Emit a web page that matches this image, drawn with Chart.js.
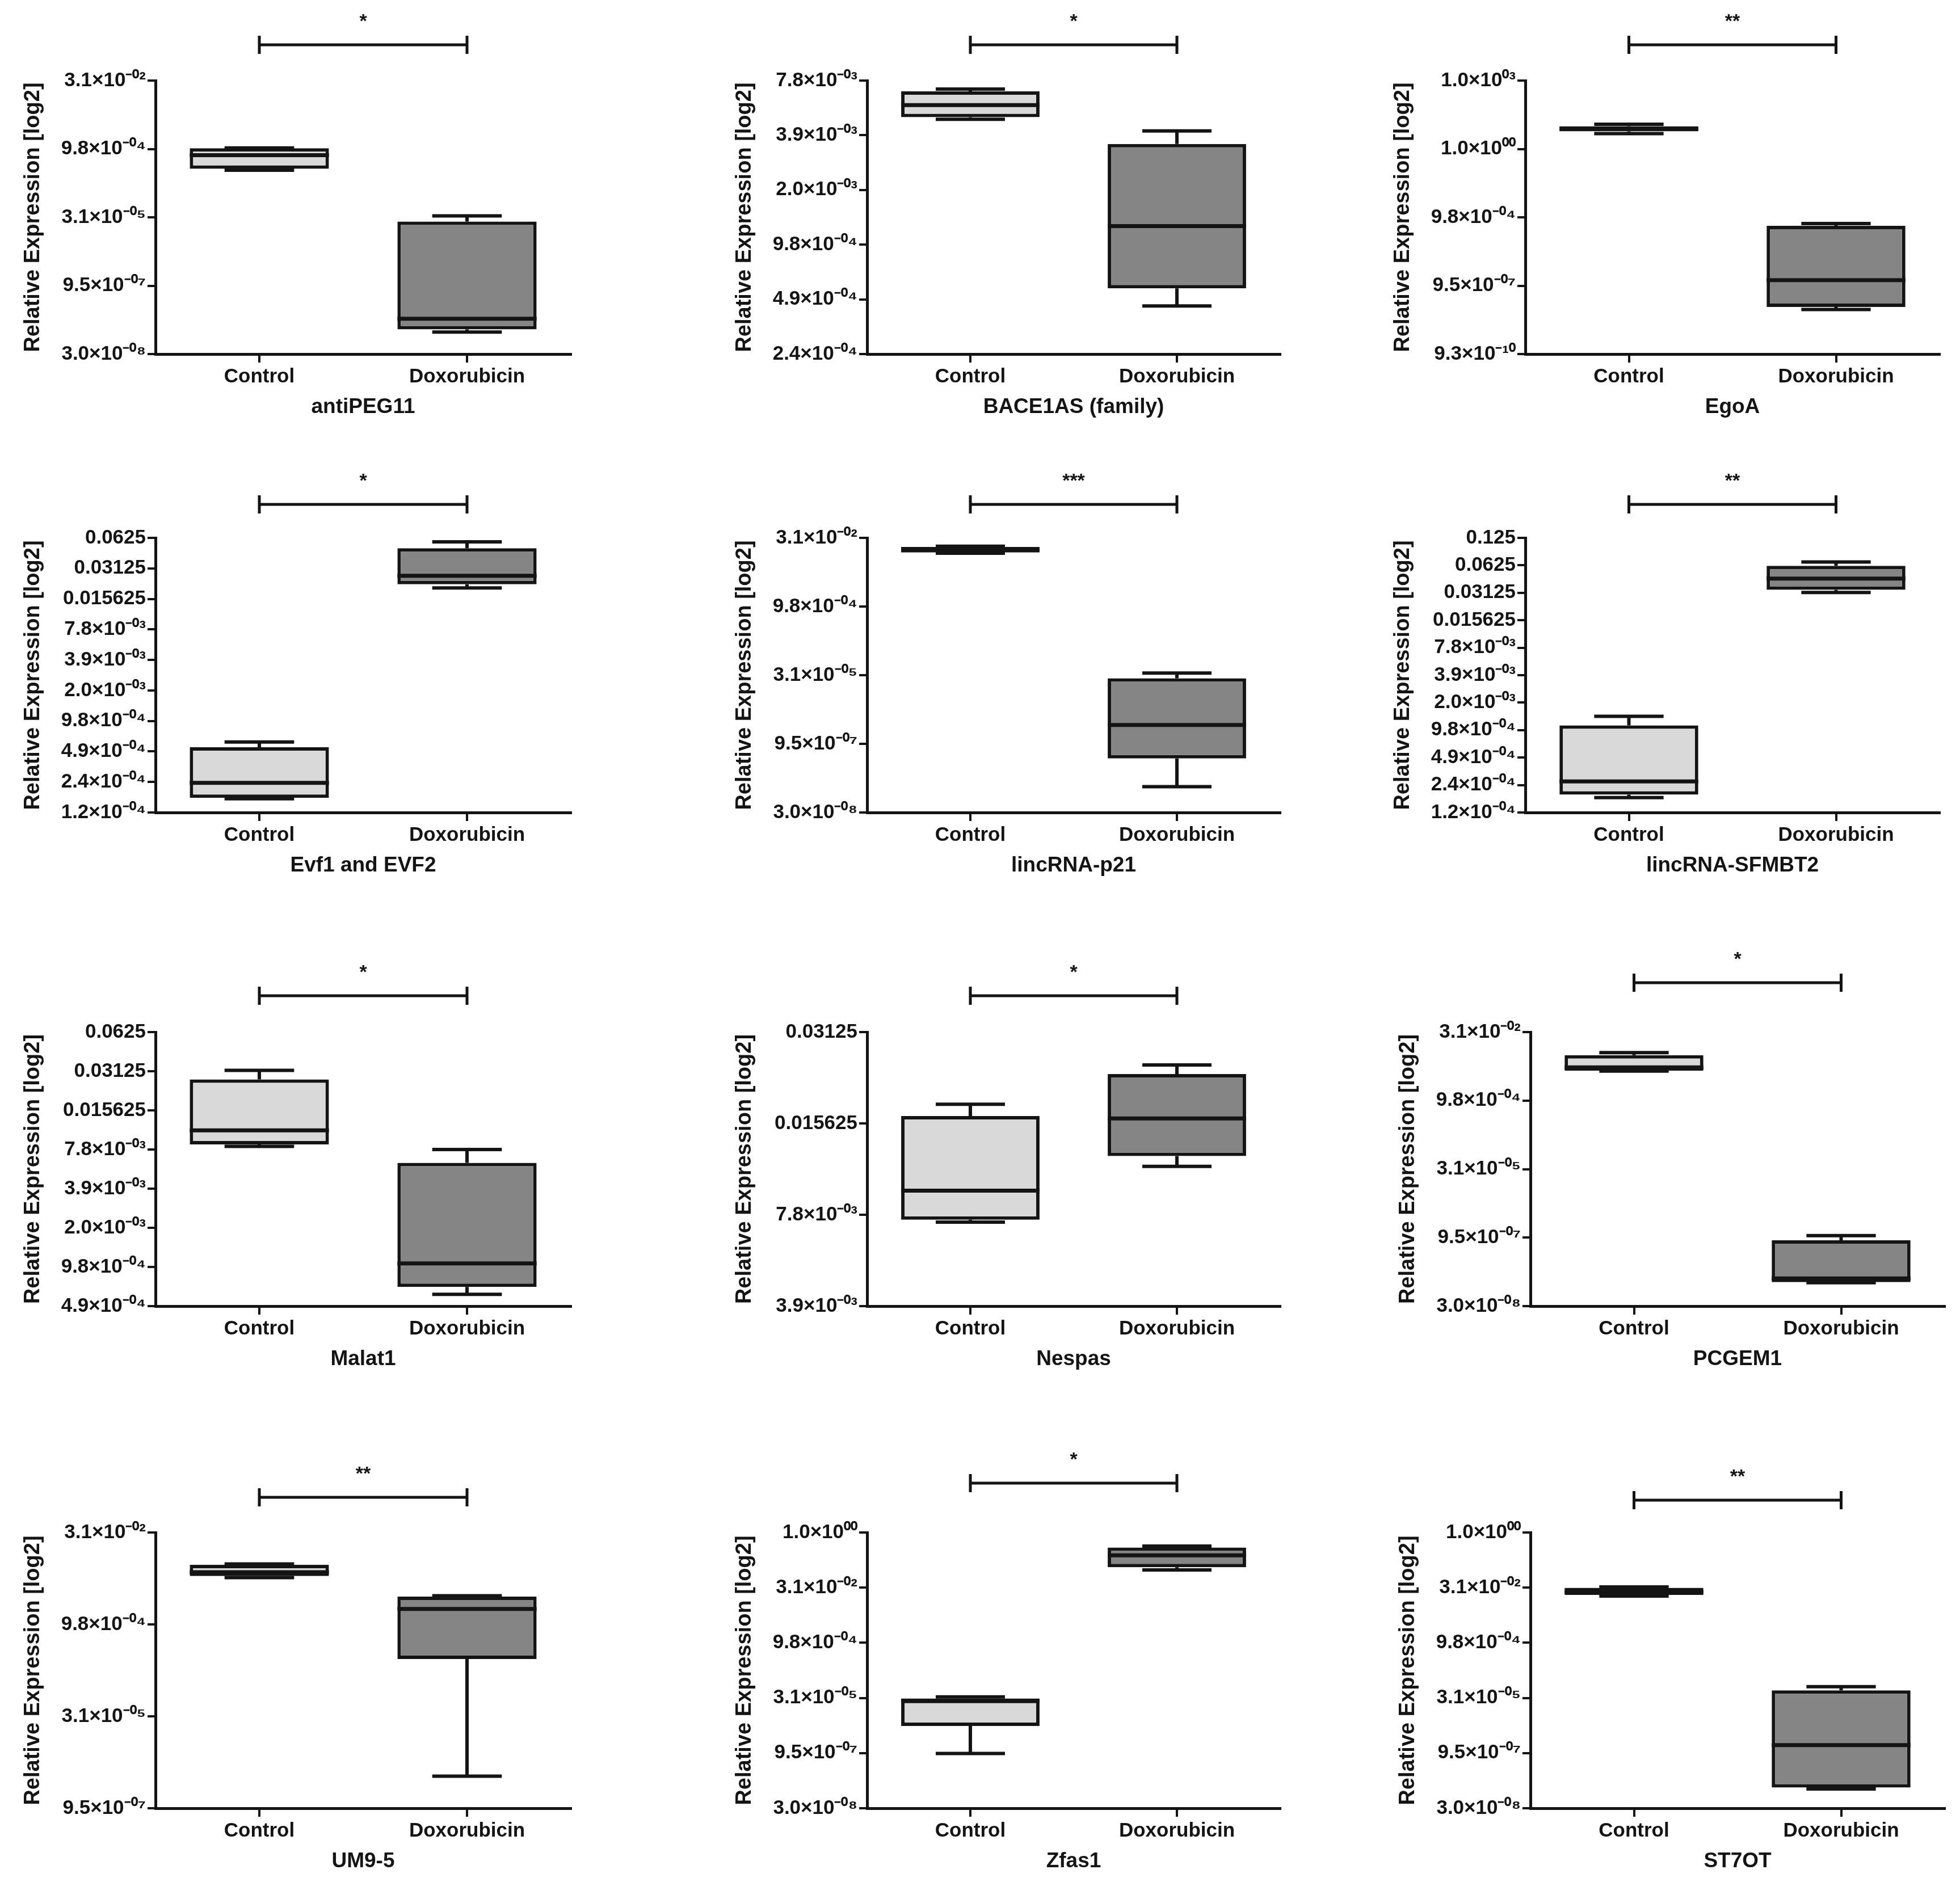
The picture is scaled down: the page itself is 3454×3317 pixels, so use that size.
<!DOCTYPE html>
<html>
<head>
<meta charset="utf-8">
<script src="https://cdn.jsdelivr.net/npm/chart.js@4.4.1/dist/chart.umd.min.js"></script>
<style>
  html, body { margin: 0; padding: 0; background: #fff; overflow: hidden; }
  body { position: relative; width: 3454px; height: 3317px; }
  canvas { position: absolute; }
</style>
</head>
<body>
<script>
// Groups on the x axis
const groups = ['Control', 'Doxorubicin'];

// One panel per lncRNA
const genes = ['antiPEG11', 'BACE1AS (family)', 'EgoA',
               'Evf1 and EVF2', 'lincRNA-p21', 'lincRNA-SFMBT2',
               'Malat1', 'Nespas', 'PCGEM1',
               'UM9-5', 'Zfas1', 'ST7OT'];

// significance stars above each panel
const stars = ['*', '*', '**', '*', '***', '**', '*', '*', '*', '**', '*', '**'];

// box stats: [min, q1, median, q3, max]
const controlStats = [
    [3.31e-4, 3.57e-4, 7.10e-4, 1.011e-3, 1.025e-3],
    [4.78e-3, 4.91e-3, 5.72e-3, 6.82e-3, 7.02e-3],
    [4.76, 5.98, 7.73, 9.99, 12.21],
    [1.667e-4, 1.703e-4, 2.391e-4, 5.38e-4, 6.05e-4],
    [0.01440, 0.01500, 0.01722, 0.01970, 0.02050],
    [1.775e-4, 1.916e-4, 2.671e-4, 1.098e-3, 1.381e-3],
    [0.008258, 0.008548, 0.01097, 0.02702, 0.03169],
    [0.007391, 0.00752, 0.009386, 0.01652, 0.01807],
    [0.004334, 0.004425, 0.005227, 0.009686, 0.01105],
    [0.005719, 0.006045, 0.006992, 0.009227, 0.009552],
    [9.34e-7, 5.248e-6, 2.496e-5, 2.968e-5, 3.248e-5],
    [0.01845, 0.01978, 0.02401, 0.03082, 0.03258]
];
const doxStats = [
    [9.10e-8, 1.038e-7, 1.782e-7, 2.462e-5, 3.271e-5],
    [4.49e-4, 5.61e-4, 1.236e-3, 3.496e-3, 4.129e-3],
    [8.55e-8, 1.105e-7, 1.660e-6, 4.134e-4, 5.197e-4],
    [0.02005, 0.02179, 0.02646, 0.04938, 0.05711],
    [1.097e-7, 4.574e-7, 2.465e-6, 2.602e-5, 3.409e-5],
    [0.03147, 0.03372, 0.04481, 0.06164, 0.06792],
    [6.01e-4, 6.86e-4, 1.039e-3, 6.172e-3, 7.81e-3],
    [0.01128, 0.0122, 0.01623, 0.02272, 0.02435],
    [9.75e-8, 1.002e-7, 1.209e-7, 8.303e-7, 1.058e-6],
    [3.186e-6, 2.653e-4, 1.748e-3, 2.781e-3, 2.879e-3],
    [0.09473, 0.1127, 0.2381, 0.3896, 0.4263],
    [1.002e-7, 1.097e-7, 1.571e-6, 4.923e-5, 6.189e-5]
];

// y ticks as powers of two (log2 axis) and their printed labels
const tickExp = [
    [-25, -20, -15, -10, -5],
    [-12, -11, -10, -9, -8, -7],
    [-30, -20, -10, 0, 10],
    [-13, -12, -11, -10, -9, -8, -7, -6, -5, -4],
    [-25, -20, -15, -10, -5],
    [-13, -12, -11, -10, -9, -8, -7, -6, -5, -4, -3],
    [-11, -10, -9, -8, -7, -6, -5, -4],
    [-8, -7, -6, -5],
    [-25, -20, -15, -10, -5],
    [-20, -15, -10, -5],
    [-25, -20, -15, -10, -5, 0],
    [-25, -20, -15, -10, -5, 0]
];
const tickLabels = [
    ['3.0×10⁻⁰⁸', '9.5×10⁻⁰⁷', '3.1×10⁻⁰⁵', '9.8×10⁻⁰⁴', '3.1×10⁻⁰²'],
    ['2.4×10⁻⁰⁴', '4.9×10⁻⁰⁴', '9.8×10⁻⁰⁴', '2.0×10⁻⁰³', '3.9×10⁻⁰³', '7.8×10⁻⁰³'],
    ['9.3×10⁻¹⁰', '9.5×10⁻⁰⁷', '9.8×10⁻⁰⁴', '1.0×10⁰⁰', '1.0×10⁰³'],
    ['1.2×10⁻⁰⁴', '2.4×10⁻⁰⁴', '4.9×10⁻⁰⁴', '9.8×10⁻⁰⁴', '2.0×10⁻⁰³', '3.9×10⁻⁰³', '7.8×10⁻⁰³', '0.015625', '0.03125', '0.0625'],
    ['3.0×10⁻⁰⁸', '9.5×10⁻⁰⁷', '3.1×10⁻⁰⁵', '9.8×10⁻⁰⁴', '3.1×10⁻⁰²'],
    ['1.2×10⁻⁰⁴', '2.4×10⁻⁰⁴', '4.9×10⁻⁰⁴', '9.8×10⁻⁰⁴', '2.0×10⁻⁰³', '3.9×10⁻⁰³', '7.8×10⁻⁰³', '0.015625', '0.03125', '0.0625', '0.125'],
    ['4.9×10⁻⁰⁴', '9.8×10⁻⁰⁴', '2.0×10⁻⁰³', '3.9×10⁻⁰³', '7.8×10⁻⁰³', '0.015625', '0.03125', '0.0625'],
    ['3.9×10⁻⁰³', '7.8×10⁻⁰³', '0.015625', '0.03125'],
    ['3.0×10⁻⁰⁸', '9.5×10⁻⁰⁷', '3.1×10⁻⁰⁵', '9.8×10⁻⁰⁴', '3.1×10⁻⁰²'],
    ['9.5×10⁻⁰⁷', '3.1×10⁻⁰⁵', '9.8×10⁻⁰⁴', '3.1×10⁻⁰²'],
    ['3.0×10⁻⁰⁸', '9.5×10⁻⁰⁷', '3.1×10⁻⁰⁵', '9.8×10⁻⁰⁴', '3.1×10⁻⁰²', '1.0×10⁰⁰'],
    ['3.0×10⁻⁰⁸', '9.5×10⁻⁰⁷', '3.1×10⁻⁰⁵', '9.8×10⁻⁰⁴', '3.1×10⁻⁰²', '1.0×10⁰⁰']
];

// page layout (pixels)
const axisX = [274, 1528, 2688, 274, 1528, 2688, 274, 1528, 2697, 274, 1528, 2697];
const plotW = [732, 728, 730];
const plotTop = [142, 948, 1819, 2701];
const plotH = [482, 484, 483, 486];
const bracketGap = [63, 63, 63, 59, 59, 59, 64, 64, 87, 62, 87, 57];
const YW = 274, PAD_TOP = 142, XH = 130;

const INK = '#141414';
const FONT = "'Liberation Sans', Arial, sans-serif";

// whiskers, medians and the significance bracket
const boxExtras = {
    id: 'boxExtras',
    beforeDatasetsDraw(chart, args, opts) {
        const ctx = chart.ctx, y = chart.scales.y;
        const bars = chart.getDatasetMeta(0).data;
        ctx.save();
        ctx.strokeStyle = INK;
        ctx.lineWidth = 6;
        bars.forEach((bar, i) => {
            const s = opts.stats[i];
            const cap = bar.width / 4;
            const yMin = y.getPixelForValue(s[0]), yQ1 = y.getPixelForValue(s[1]);
            const yQ3 = y.getPixelForValue(s[3]), yMax = y.getPixelForValue(s[4]);
            ctx.beginPath();
            ctx.moveTo(bar.x, yMax); ctx.lineTo(bar.x, yQ3);
            ctx.moveTo(bar.x, yQ1); ctx.lineTo(bar.x, yMin);
            ctx.moveTo(bar.x - cap, yMax); ctx.lineTo(bar.x + cap, yMax);
            ctx.moveTo(bar.x - cap, yMin); ctx.lineTo(bar.x + cap, yMin);
            ctx.stroke();
        });
        ctx.restore();
    },
    afterDatasetsDraw(chart, args, opts) {
        const ctx = chart.ctx, y = chart.scales.y;
        const bars = chart.getDatasetMeta(0).data;
        ctx.save();
        ctx.strokeStyle = INK;
        ctx.lineWidth = 7;
        bars.forEach((bar, i) => {
            const yMed = y.getPixelForValue(opts.stats[i][2]);
            ctx.beginPath();
            ctx.moveTo(bar.x - bar.width / 2, yMed);
            ctx.lineTo(bar.x + bar.width / 2, yMed);
            ctx.stroke();
        });
        // bracket
        const x0 = bars[0].x, x1 = bars[1].x;
        const by = chart.chartArea.top - opts.gap;
        ctx.lineWidth = 5;
        ctx.beginPath();
        ctx.moveTo(x0, by); ctx.lineTo(x1, by);
        ctx.moveTo(x0, by - 16); ctx.lineTo(x0, by + 16);
        ctx.moveTo(x1, by - 16); ctx.lineTo(x1, by + 16);
        ctx.stroke();
        ctx.fillStyle = INK;
        ctx.font = 'bold 34px ' + FONT;
        ctx.textAlign = 'center';
        ctx.textBaseline = 'middle';
        ctx.fillText(opts.star, (x0 + x1) / 2, by - 40);
        ctx.restore();
    }
};

genes.forEach((gene, i) => {
    const col = i % 3, row = Math.floor(i / 3);
    const canvas = document.createElement('canvas');
    canvas.width = YW + plotW[col] + 4;
    canvas.height = PAD_TOP + plotH[row] + XH;
    canvas.style.left = (axisX[i] - YW) + 'px';
    canvas.style.top = (plotTop[row] - PAD_TOP) + 'px';
    document.body.appendChild(canvas);

    const exps = tickExp[i];
    const labels = tickLabels[i];
    const stats = [controlStats[i], doxStats[i]];

    new Chart(canvas, {
        type: 'bar',
        data: {
            labels: groups,
            datasets: [{
                data: stats.map(s => [s[1], s[3]]),
                backgroundColor: ['#d9d9d9', '#858585'],
                borderColor: INK,
                borderWidth: 6,
                borderSkipped: false,
                barPercentage: 0.67,
                categoryPercentage: 1
            }]
        },
        options: {
            responsive: false,
            devicePixelRatio: 1,
            animation: false,
            layout: { padding: { top: PAD_TOP, right: 4, left: 0, bottom: 0 } },
            plugins: {
                legend: { display: false },
                tooltip: { enabled: false },
                boxExtras: { stats: stats, star: stars[i], gap: bracketGap[i] }
            },
            scales: {
                x: {
                    type: 'category',
                    offset: true,
                    afterFit: s => { s.height = XH; },
                    grid: { offset: false, drawOnChartArea: false, color: INK, lineWidth: 4, tickLength: 15 },
                    border: { color: INK, width: 5 },
                    ticks: { color: INK, padding: 4, font: { family: FONT, size: 35, weight: 'bold' } },
                    title: {
                        display: true, text: gene, color: INK,
                        padding: { top: 0, bottom: 14 },
                        font: { family: FONT, size: 37, weight: 'bold' }
                    }
                },
                y: {
                    type: 'logarithmic',
                    min: Math.pow(2, exps[0]),
                    max: Math.pow(2, exps[exps.length - 1]),
                    afterFit: s => { s.width = YW; },
                    afterBuildTicks: s => { s.ticks = exps.map(e => ({ value: Math.pow(2, e) })); },
                    grid: { drawOnChartArea: false, color: INK, lineWidth: 4, tickLength: 14 },
                    border: { color: INK, width: 5 },
                    ticks: {
                        autoSkip: false, color: INK, padding: 3,
                        font: { family: FONT, size: 35, weight: 'bold' },
                        callback: (v, idx) => labels[idx]
                    },
                    title: {
                        display: true, text: 'Relative Expression [log2]', color: INK,
                        padding: { top: 36, bottom: 0 },
                        font: { family: FONT, size: 38, weight: 'bold' }
                    }
                }
            }
        },
        plugins: [boxExtras]
    });
});
</script>
</body>
</html>
